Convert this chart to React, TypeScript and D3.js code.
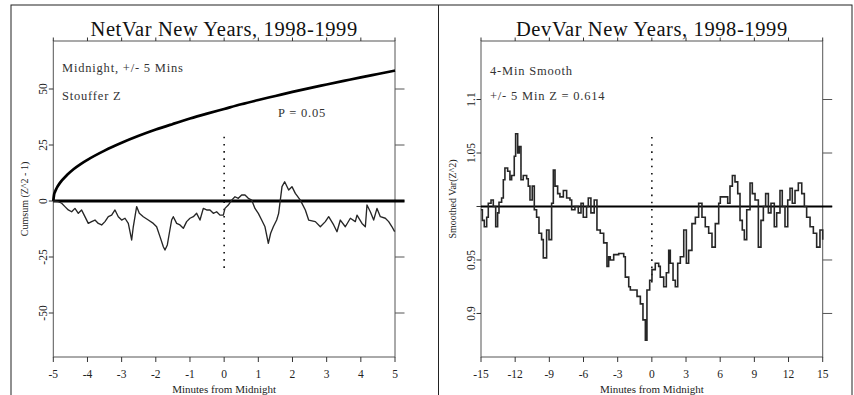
import React from 'react';
import * as d3 from 'd3';

const W = 854;
const H = 395;
const FONT = "'Liberation Serif', 'DejaVu Serif', serif";

// NetVar: cumulative deviation of (Z^2 - 1), minutes from midnight
const netMinutes = [
  -5.0, -4.854, -4.756, -4.659, -4.561, -4.463, -4.366, -4.268, -4.171, -4.122,
  -3.976, -3.878, -3.78, -3.683, -3.585, -3.488, -3.39, -3.293, -3.195, -3.098,
  -3.0, -2.902, -2.805, -2.707, -2.659, -2.561, -2.483, -2.366, -2.22, -2.073,
  -1.976, -1.878, -1.78, -1.732, -1.663, -1.605, -1.537, -1.488, -1.39, -1.293,
  -1.195, -1.098, -1.0, -0.902, -0.805, -0.707, -0.61, -0.512, -0.415, -0.317,
  -0.22, -0.122, -0.024, 0.024, 0.122, 0.22, 0.317, 0.415, 0.512, 0.61,
  0.707, 0.805, 0.902, 1.0, 1.098, 1.195, 1.293, 1.361, 1.439, 1.537,
  1.595, 1.693, 1.771, 1.888, 1.985, 2.083, 2.229, 2.376, 2.473, 2.668,
  2.815, 2.961, 3.059, 3.205, 3.302, 3.4, 3.546, 3.693, 3.839, 3.888,
  4.034, 4.132, 4.18, 4.278, 4.376, 4.473, 4.571, 4.717, 4.815, 4.912, 4.99,
];
const netCumsum = [
  0, -0.3, -1.0, -2.5, -4.0, -4.8, -3.3, -5.5, -4.0, -5.5,
  -10.0, -9.2, -8.5, -10.0, -10.7, -9.2, -7.0, -6.3, -4.0, -7.0,
  -8.5, -7.7, -10.0, -17.4, -11.5, -2.5, -5.5, -7.0, -8.5, -10.0,
  -11.5, -15.9, -20.4, -21.9, -19.6, -14.4, -8.5, -7.0, -10.0, -10.7,
  -12.2, -9.2, -7.7, -7.0, -5.5, -8.5, -3.3, -4.0, -4.0, -5.5,
  -4.8, -6.3, -6.3, -3.3, -1.8, 0.4, 1.9, 1.2, 2.7, 2.7,
  1.2, 0.4, -3.3, -5.5, -8.5, -11.5, -18.9, -14.4, -11.5, -8.5,
  -5.5, 6.4, 8.6, 4.9, 6.4, 3.4, 0.4, -4.0, -8.5, -9.2,
  -11.5, -9.2, -7.0, -10.7, -13.7, -8.5, -11.5, -7.7, -9.2, -6.3,
  -10.0, -11.5, -1.8, -4.8, -8.5, -3.3, -7.0, -7.7, -9.2, -11.5, -13.7,
];

// P = 0.05 envelope for the cumulative deviation
const envMinutes = [
  -5, -4.98, -4.95, -4.9, -4.8, -4.6, -4.4, -4.2, -4, -3.5, -3, -2.5, -2,
  -1.5, -1, -0.5, 0, 0.5, 1, 1.5, 2, 2.5, 3, 3.5, 4, 4.5, 5,
];
const envValues = [
  0, 2.6, 4.1, 5.8, 8.2, 11.6, 14.3, 16.5, 18.4, 22.5, 26.0, 29.1, 31.9,
  34.4, 36.8, 39.0, 41.1, 43.2, 45.1, 46.9, 48.7, 50.4, 52.0, 53.6, 55.2, 56.7, 58.2,
];

// DevVar: 4-minute smoothed Var(Z^2)
const devMinutes = [
  -15.0, -14.88, -14.71, -14.5, -14.36, -14.12, -13.92, -13.71, -13.54, -13.42,
  -13.19, -13.04, -12.9, -12.66, -12.46, -12.31, -12.08, -11.96, -11.78, -11.64,
  -11.49, -11.29, -10.99, -10.85, -10.7, -10.5, -10.32, -10.12, -9.91, -9.68,
  -9.53, -9.24, -9.03, -8.8, -8.65, -8.5, -8.27, -8.07, -7.77, -7.48,
  -7.19, -7.04, -6.75, -6.46, -6.22, -6.02, -5.73, -5.58, -5.35, -5.06,
  -4.82, -4.53, -4.23, -3.94, -3.79, -3.65, -3.35, -2.91, -2.47, -2.33,
  -2.03, -1.89, -1.59, -1.3, -1.01, -0.78, -0.57, -0.43, -0.19, 0.01,
  0.3, 0.6, 0.74, 1.04, 1.27, 1.48, 1.62, 1.86, 2.06, 2.27,
  2.5, 2.8, 3.03, 3.23, 3.52, 3.82, 4.11, 4.4, 4.69, 4.99,
  5.28, 5.57, 5.87, 6.01, 6.28, 6.66, 6.86, 7.07, 7.3, 7.54,
  7.74, 7.94, 8.12, 8.33, 8.62, 8.82, 9.06, 9.35, 9.58, 9.79,
  9.99, 10.23, 10.46, 10.75, 10.96, 11.25, 11.45, 11.69, 11.93, 12.13,
  12.33, 12.57, 12.86, 13.16, 13.39, 13.59, 13.89, 14.18, 14.47, 14.76, 15.0,
];
const devVar = [
  0.997, 0.987, 0.981, 0.99, 1.003, 1.006, 1.0, 0.981, 0.994, 1.004,
  1.008, 1.025, 1.036, 1.033, 1.025, 1.029, 1.047, 1.068, 1.05, 1.056,
  1.025, 1.029, 1.026, 1.019, 1.006, 1.019, 0.997, 0.99, 0.975, 0.969,
  0.952, 0.978, 0.969, 1.003, 1.034, 1.019, 1.012, 1.009, 1.015, 1.008,
  1.006, 0.997, 1.0, 0.994, 1.003, 0.99, 1.0, 1.008, 0.994, 1.006,
  0.978, 0.975, 0.966, 0.944, 0.953, 0.95, 0.955, 0.956, 0.953, 0.934,
  0.925, 0.922, 0.922, 0.916, 0.909, 0.894, 0.875, 0.922, 0.931, 0.941,
  0.947, 0.944, 0.934, 0.925, 0.938, 0.959, 0.947, 0.931, 0.925, 0.947,
  0.953, 0.978, 0.947, 0.959, 0.984, 0.99, 1.003, 0.99, 0.981, 0.975,
  0.962, 0.984, 1.003, 1.009, 1.009, 1.003, 1.019, 1.029, 1.023, 1.012,
  0.987, 0.978, 0.969, 0.997, 1.022, 1.012, 1.006, 0.962, 0.987, 1.0,
  1.012, 0.994, 1.003, 0.981, 0.994, 1.015, 1.0, 0.981, 1.006, 1.017,
  1.003, 1.015, 1.022, 1.012, 1.0, 0.99, 0.981, 0.975, 0.962, 0.978, 0.969,
];

const netXTicks = [-5, -4, -3, -2, -1, 0, 1, 2, 3, 4, 5];
const netYTicks = [50, 25, 0, -25, -50];
const netYLabels = ['50', '25', '0', '-25', '-50'];
const devXTicks = [-15, -12, -9, -6, -3, 0, 3, 6, 9, 12, 15];
const devYTicks = [1.1, 1.05, 1.0, 0.95, 0.9];
const devYLabels = ['1.1', '1.05', '', '0.95', '0.9'];

type PanelProps = {
  left: number;
  right: number;
  top: number;
  bottom: number;
  xDomain: [number, number];
  yDomain: [number, number];
  title: string;
  yTitle: string;
  yTitleX: number;
  yLabelX: number;
  xTicks: number[];
  yTicks: number[];
  yLabels: string[];
  baseline: number;
  baselineWidth: number;
  marker: [number, number];
  notes: { text: string; x: number; y: number }[];
  children: (x: d3.ScaleLinear<number, number>, y: d3.ScaleLinear<number, number>) => React.ReactNode;
};

function Panel(p: PanelProps) {
  const x = d3.scaleLinear().domain(p.xDomain).range([p.left, p.right]);
  const y = d3.scaleLinear().domain(p.yDomain).range([p.bottom, p.top]);
  const cx = (p.left + p.right) / 2;
  const cy = (p.top + p.bottom) / 2;
  return (
    <g>
      <text x={cx} y={36} textAnchor="middle" fontSize={20.5} fontFamily={FONT} fill="#111"
        letterSpacing={0.6}>
        {p.title}
      </text>
      {/* plot frame */}
      <rect x={p.left} y={p.top} width={p.right - p.left} height={p.bottom - p.top}
        fill="none" stroke="#555" strokeWidth={1} />
      {/* x ticks, top and bottom */}
      {p.xTicks.map((t) => (
        <g key={'x' + t}>
          <line x1={x(t)} x2={x(t)} y1={p.top} y2={p.top - 3.5} stroke="#333" strokeWidth={1} />
          <line x1={x(t)} x2={x(t)} y1={p.bottom} y2={p.bottom + 5} stroke="#333" strokeWidth={1} />
          <text x={x(t)} y={378} textAnchor="middle" fontSize={11.5} fontFamily={FONT} fill="#222">
            {t}
          </text>
        </g>
      ))}
      {/* y ticks, left and right */}
      {p.yTicks.map((t, i) => (
        <g key={'y' + t}>
          <line x1={p.left} x2={p.left - 4.5} y1={y(t)} y2={y(t)} stroke="#333" strokeWidth={1} />
          <line x1={p.right} x2={p.right + 9.5} y1={y(t)} y2={y(t)} stroke="#555" strokeWidth={1} />
          <text transform={`translate(${p.yLabelX},${y(t)}) rotate(-90)`} textAnchor="middle"
            fontSize={11.5} fontFamily={FONT} fill="#222">
            {p.yLabels[i]}
          </text>
        </g>
      ))}
      <text x={cx} y={393} textAnchor="middle" fontSize={11} fontFamily={FONT} fill="#222">
        Minutes from Midnight
      </text>
      <text transform={`translate(${p.yTitleX},${cy})rotate(-90)`} textAnchor="middle"
        fontSize={10} fontFamily={FONT} fill="#222">
        {p.yTitle}
      </text>
      {/* reference level */}
      <line x1={p.left} x2={p.right + 9.5} y1={y(p.baseline)} y2={y(p.baseline)}
        stroke="#000" strokeWidth={p.baselineWidth} />
      {/* midnight marker */}
      <line x1={x(0)} x2={x(0)} y1={y(p.marker[0])} y2={y(p.marker[1])}
        stroke="#111" strokeWidth={1.6} strokeDasharray="1.6,5.6" />
      {p.notes.map((n) => (
        <text key={n.text} x={n.x} y={n.y} fontSize={12.5} fontFamily={FONT} fill="#333"
          letterSpacing={0.8}>
          {n.text}
        </text>
      ))}
      {p.children(x, y)}
    </g>
  );
}

export default function App() {
  const top = 41;
  const bottom = 357;
  return (
    <svg width={W} height={H} viewBox={`0 0 ${W} ${H}`}
      style={{ position: 'absolute', left: 0, top: 0, background: '#fff' }}>
      <rect x={0} y={0} width={W} height={H} fill="#fff" />
      <rect x={11} y={5} width={841} height={400} fill="none" stroke="#222" strokeWidth={1} />
      <line x1={438.5} x2={438.5} y1={5} y2={H} stroke="#222" strokeWidth={1} />

      <Panel left={53.3} right={395} top={top} bottom={bottom}
        xDomain={[-5, 5]} yDomain={[-69.64, 71.43]}
        title="NetVar New Years, 1998-1999" yTitle="Cumsum (Z^2 - 1)"
        yTitleX={28} yLabelX={47} xTicks={netXTicks} yTicks={netYTicks} yLabels={netYLabels}
        baseline={0} baselineWidth={3} marker={[28.7, -31.2]}
        notes={[
          { text: 'Midnight, +/- 5 Mins', x: 62, y: 72 },
          { text: 'Stouffer Z', x: 62, y: 100 },
          { text: 'P = 0.05', x: 278, y: 117 },
        ]}>
        {(x, y) => {
          const env = d3.line<number>().x((_, i) => x(envMinutes[i])).y((v) => y(v))
            .curve(d3.curveMonotoneX);
          const walk = d3.line<number>().x((_, i) => x(netMinutes[i])).y((v) => y(v));
          return (
            <g>
              <path d={env(envValues) ?? ''} fill="none" stroke="#000" strokeWidth={2.7} />
              <path d={walk(netCumsum) ?? ''} fill="none" stroke="#262626" strokeWidth={1.35}
                strokeLinejoin="round" />
            </g>
          );
        }}
      </Panel>

      <Panel left={481} right={822.7} top={top} bottom={bottom}
        xDomain={[-15, 15]} yDomain={[0.8593, 1.1547]}
        title="DevVar New Years, 1998-1999" yTitle="Smoothed Var(Z^2)"
        yTitleX={456} yLabelX={474.5} xTicks={devXTicks} yTicks={devYTicks} yLabels={devYLabels}
        baseline={1} baselineWidth={2} marker={[1.065, 0.928]}
        notes={[
          { text: '4-Min Smooth', x: 490, y: 75 },
          { text: '+/- 5 Min Z = 0.614', x: 490, y: 100 },
        ]}>
        {(x, y) => {
          const smooth = d3.line<number>().x((_, i) => x(devMinutes[i])).y((v) => y(v))
            .curve(d3.curveStepAfter);
          return (
            <path d={smooth(devVar) ?? ''} fill="none" stroke="#262626" strokeWidth={1.6} />
          );
        }}
      </Panel>
    </svg>
  );
}
